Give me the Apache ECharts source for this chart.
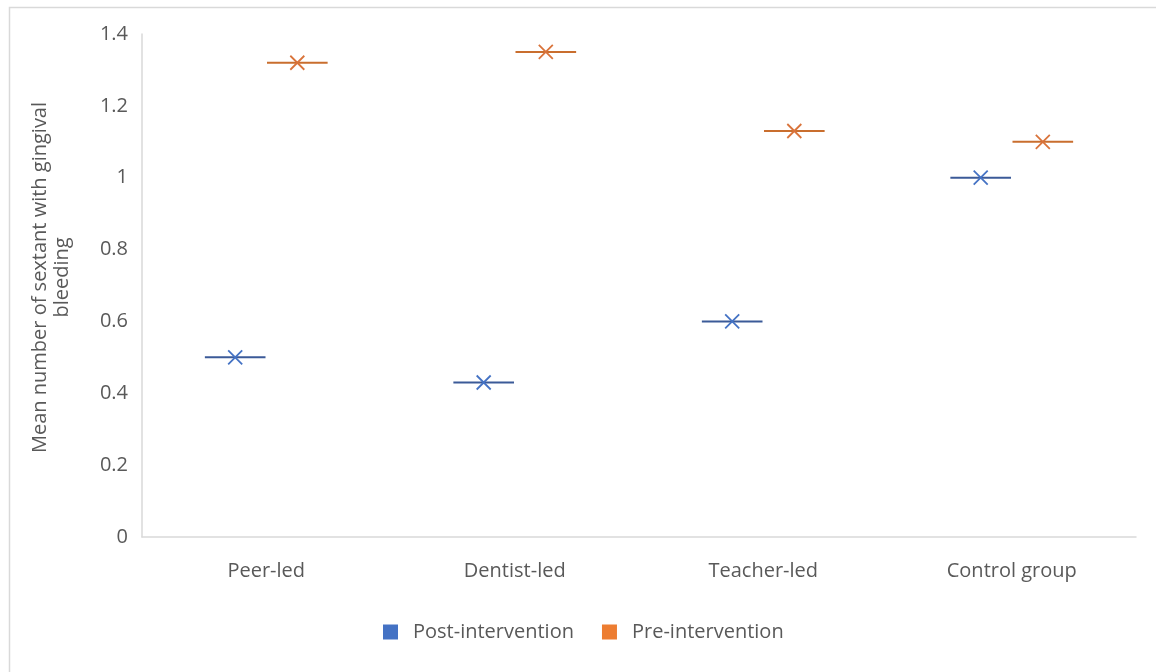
<!DOCTYPE html>
<html>
<head>
<meta charset="utf-8">
<script src="https://cdn.jsdelivr.net/npm/echarts@6/dist/echarts.min.js"></script>
<style>
  html, body { margin: 0; padding: 0; background: #ffffff; }
  #chart { width: 1156px; height: 672px; }
</style>
</head>
<body>
<div id="chart"></div>
<script>
// Mean number of sextants with gingival bleeding, by intervention group
const categories = ['Peer-led', 'Dentist-led', 'Teacher-led', 'Control group'];
const postIntervention = [0.50, 0.43, 0.60, 1.00];
const preIntervention = [1.32, 1.35, 1.13, 1.10];
const yTicks = { min: 0, max: 1.4, interval: 0.2 };

const FONT = '"Open Sans", "Segoe UI", sans-serif';
const TEXT = '#595959';
const FS = 20;

// Draws a horizontal dash with an "x" marker, shifted within the category band
function makeRenderer(offsetFrac, dashColor, crossColor) {
  return function (params, api) {
    const c = api.coord([api.value(0), api.value(1)]);
    const bw = api.size([1, 0])[0];
    const x = c[0] + offsetFrac * bw;
    const y = c[1];
    const half = bw * 0.122;
    const s = 7;
    return {
      type: 'group',
      children: [
        { type: 'line', shape: { x1: x - half, y1: y, x2: x + half, y2: y },
          style: { stroke: dashColor, lineWidth: 2 } },
        { type: 'line', shape: { x1: x - s, y1: y - s, x2: x + s, y2: y + s },
          style: { stroke: crossColor, lineWidth: 1.8 } },
        { type: 'line', shape: { x1: x - s, y1: y + s, x2: x + s, y2: y - s },
          style: { stroke: crossColor, lineWidth: 1.8 } }
      ]
    };
  };
}

const chart = echarts.init(document.getElementById('chart'));
chart.setOption({
  backgroundColor: '#ffffff',
  animation: false,
  textStyle: { fontFamily: FONT },
  graphic: [{
    type: 'rect', left: 7, top: 5, silent: true, z: -1,
    shape: { width: 1200, height: 720 },
    style: { fill: 'none', stroke: '#d9d9d9', lineWidth: 1.5 }
  }],
  grid: { left: 142, right: 20, top: 34, bottom: 135 },
  legend: {
    left: 378, top: 617,
    itemWidth: 15, itemHeight: 15, itemGap: 28,
    icon: 'rect',
    textStyle: { color: TEXT, fontSize: FS, fontFamily: FONT, padding: [0, 0, 0, 10] },
    data: ['Post-intervention', 'Pre-intervention']
  },
  xAxis: {
    type: 'category',
    data: categories,
    boundaryGap: true,
    axisLine: { lineStyle: { color: '#d9d9d9', width: 1.5 } },
    axisTick: { show: false },
    axisLabel: { color: TEXT, fontSize: FS, margin: 24, fontFamily: FONT },
    splitLine: { show: false }
  },
  yAxis: {
    type: 'value',
    min: yTicks.min, max: yTicks.max, interval: yTicks.interval,
    name: 'Mean number of sextant with gingival\nbleeding',
    nameLocation: 'middle',
    nameGap: 69,
    nameTextStyle: { color: TEXT, fontSize: FS, lineHeight: 22, fontFamily: FONT, padding: [0, 0, 0, 16] },
    axisLine: { show: true, lineStyle: { color: '#d9d9d9', width: 1.5 } },
    axisTick: { show: false },
    axisLabel: { color: TEXT, fontSize: FS, margin: 14, fontFamily: FONT },
    splitLine: { show: false }
  },
  series: [
    {
      name: 'Post-intervention',
      type: 'custom',
      itemStyle: { color: '#4472C4' },
      renderItem: makeRenderer(-0.125, '#3B5A98', '#4472C4'),
      encode: { x: 0, y: 1 },
      data: categories.map((c, i) => [i, postIntervention[i]])
    },
    {
      name: 'Pre-intervention',
      type: 'custom',
      itemStyle: { color: '#ED7D31' },
      renderItem: makeRenderer(0.125, '#C96E2E', '#D9733A'),
      encode: { x: 0, y: 1 },
      data: categories.map((c, i) => [i, preIntervention[i]])
    }
  ]
});
</script>
</body>
</html>
